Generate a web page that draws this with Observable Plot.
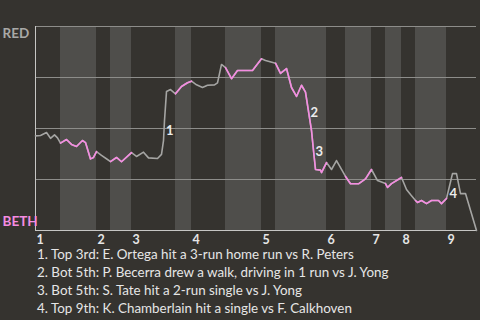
<!DOCTYPE html>
<html>
<head>
<meta charset="utf-8">
<script src="https://cdn.jsdelivr.net/npm/d3@7"></script>
<script src="https://cdn.jsdelivr.net/npm/@observablehq/plot@0.6"></script>
<style>
  html, body { margin: 0; padding: 0; background: #35332f; }
  body { width: 480px; height: 320px; overflow: hidden; font-family: Lato, "Noto Sans", sans-serif; }
  #notes { padding-left: 37px; font-size: 13.4px; line-height: 18px; color: #e6e6e6; white-space: nowrap; }
  svg { display: block; }
</style>
</head>
<body>
<div id="chart"></div>
<div id="notes"></div>
<script>
// Game progress (play position) and RED win probability (%)
const progress = [0,5,11,15,19,22,25,31,36,41,47,50,55,58,61,66,72,75,81,86,96,101,108,113,122,126,128,129,131,135,140,146,152,156,161,167,172,179,182,186,190,196,202,217,226,230,240,245,251,256,261,266,270,276,278,280,285,286,291,296,301,310,315,323,330,336,342,350,352,356,366,371,375,380,382,386,391,396,403,406,411,417,421,425,430,441];
const redWinPct = [46.4,46.6,48.0,45.2,46.9,45.4,42.8,44.6,42.2,41.2,44.1,43.1,35.1,35.8,38.7,36.8,34.8,33.8,35.8,33.7,38.2,36.3,38.4,35.6,35.3,37.3,44.1,53.9,68.1,69.1,67.0,70.6,72.4,73.2,71.4,70.1,71.2,71.4,72.4,81.4,79.8,74.4,78.4,78.4,84.2,83.3,82.0,77.0,79.4,70.1,65.7,71.2,67.8,49.0,39.2,29.9,29.6,28.4,33.3,29.9,34.3,26.5,22.9,22.9,25.3,29.9,24.5,23.0,21.1,23.0,26.0,20.1,17.6,14.7,13.7,14.7,13.2,14.7,14.7,13.2,15.7,27.9,27.9,18.1,18.1,0];

// Half-inning boundaries (play positions): top 1st, bot 1st, top 2nd, ...
const halfInningBounds = [0,25,61,75,96,140,156,190,226,240,291,310,336,350,366,380,411,441];
const inningLabels = ["1","2","3","4","5","6","7","8","9"];

// Team labels
const topTeam = "RED";
const bottomTeam = "BETH";

// Key plays
const keyPlayLabels = ["1","2","3","4"];
const keyPlayX = [128.5,273,278,412];
const keyPlayY = [49.0,57.8,38.7,18.1];
const notes = [
  "1. Top 3rd: E. Ortega hit a 3-run home run vs R. Peters",
  "2. Bot 5th: P. Becerra drew a walk, driving in 1 run vs J. Yong",
  "3. Bot 5th: S. Tate hit a 2-run single vs J. Yong",
  "4. Top 9th: K. Chamberlain hit a single vs F. Calkhoven"
];

const pink = "#f48ce1";
const points = progress.map((x, i) => ({x, y: redWinPct[i]}));
const bands = [];
for (let i = 1; i + 1 < halfInningBounds.length; i += 2) bands.push({a: halfInningBounds[i], b: halfInningBounds[i + 1], seg: i});
const pinkPts = [];
for (const band of bands) for (const p of points) if (p.x >= band.a && p.x <= band.b) pinkPts.push({...p, seg: band.seg});
const innings = inningLabels.map((t, i) => ({x: halfInningBounds[2 * i], t}));
const keyPlays = keyPlayLabels.map((t, i) => ({x: keyPlayX[i], y: keyPlayY[i], t}));

const chart = Plot.plot({
  width: 480, height: 245,
  marginLeft: 35, marginRight: 4, marginTop: 26, marginBottom: 15,
  style: {background: "transparent", fontFamily: "Lato, sans-serif", overflow: "visible"},
  x: {domain: [0, 441], axis: null},
  y: {domain: [0, 100], axis: null},
  marks: [
    Plot.rect(bands, {x1: "a", x2: "b", fill: "#4f4e4b"}),
    Plot.ruleY([25, 50, 75, 100], {stroke: "#8d8d8a"}),
    Plot.ruleY([0], {stroke: "#c6c6c4"}),
    Plot.ruleX([0], {stroke: "#c6c6c4"}),
    Plot.line(points, {x: "x", y: "y", stroke: "#a5a5a3", strokeWidth: 1.6}),
    Plot.line(pinkPts, {x: "x", y: "y", z: "seg", stroke: pink, strokeWidth: 1.6}),
    Plot.text(keyPlays, {x: "x", y: "y", text: "t", textAnchor: "start", dx: 2, fill: "#ececec", fontWeight: "bold", fontSize: 13}),
    Plot.text(innings, {x: "x", y: () => 0, text: "t", textAnchor: "start", dx: 1, dy: 9, fill: "#e6e6e6", fontWeight: "bold", fontSize: 12.5}),
    Plot.text([topTeam], {y: () => 100, text: d => d, frameAnchor: "left", textAnchor: "start", dx: -33, dy: 7,
      fill: "#a9a9a7", fontWeight: "bold", fontSize: 13.5}),
    Plot.text([bottomTeam], {y: () => 0, text: d => d, frameAnchor: "left", textAnchor: "start", dx: -33, dy: -9,
      fill: pink, fontWeight: "bold", fontSize: 13.5})
  ]
});
document.getElementById("chart").appendChild(chart);
document.getElementById("notes").innerHTML = notes.map(n => `<div>${n}</div>`).join("");
</script>
</body>
</html>
